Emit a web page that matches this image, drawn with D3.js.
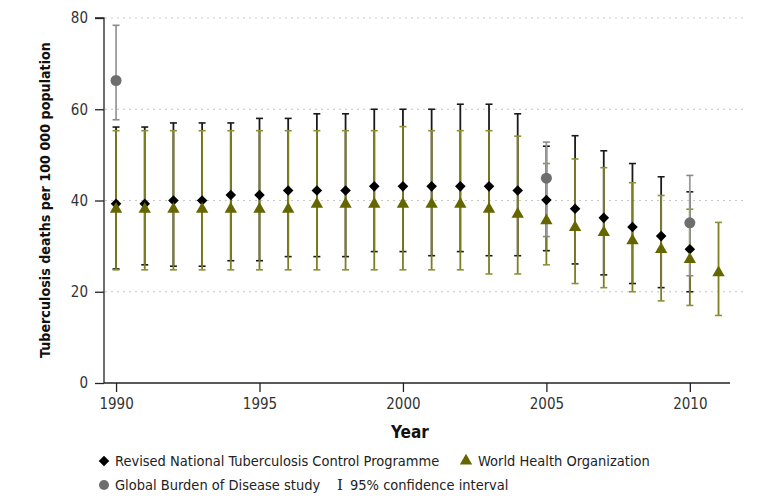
<!DOCTYPE html>
<html>
<head>
<meta charset="utf-8">
<script src="https://cdn.jsdelivr.net/npm/d3@7"></script>
<style>
  body { margin: 0; background: #fff; }
  svg text { font-family: "DejaVu Sans Condensed", "Liberation Sans Narrow", sans-serif; }
</style>
</head>
<body>
<div id="chart"></div>
<script>
// RNTCP estimates, 1990-2010
var rntcpYears = [1990,1991,1992,1993,1994,1995,1996,1997,1998,1999,2000,2001,2002,2003,2004,2005,2006,2007,2008,2009,2010];
var rntcpVal = [39.3,39.3,40.0,40.0,41.2,41.2,42.2,42.2,42.2,43.1,43.1,43.1,43.1,43.1,42.2,40.1,38.2,36.2,34.2,32.2,29.3];
var rntcpLo  = [25.0,25.9,25.6,25.6,26.8,26.8,27.7,27.7,27.7,28.8,28.8,27.9,28.8,27.9,27.9,29.0,26.1,23.7,21.8,20.9,20.0];
var rntcpHi  = [56.1,56.1,57.0,57.0,57.0,58.0,58.0,59.0,59.0,60.0,60.0,60.0,61.1,61.1,59.0,51.9,54.2,50.9,48.1,45.2,41.9];

// WHO estimates, 1990-2011
var whoYears = [1990,1991,1992,1993,1994,1995,1996,1997,1998,1999,2000,2001,2002,2003,2004,2005,2006,2007,2008,2009,2010,2011];
var whoVal = [38.1,38.1,38.1,38.1,38.1,38.1,38.1,39.2,39.2,39.2,39.2,39.2,39.2,38.1,37.0,35.6,34.1,33.0,31.2,29.3,27.1,24.2];
var whoLo  = [24.8,24.8,24.8,24.8,24.8,24.8,24.8,24.8,24.8,24.8,24.8,24.8,24.8,23.9,23.9,25.9,21.8,20.9,20.0,18.0,17.0,14.8];
var whoHi  = [55.3,55.3,55.3,55.3,55.3,55.3,55.3,55.3,55.3,55.3,56.2,55.3,55.3,55.3,54.1,48.1,49.1,47.2,43.9,41.1,38.1,35.2];

// Global Burden of Disease study
var gbdYears = [1990, 2005, 2010];
var gbdVal = [66.3, 44.9, 35.1];
var gbdLo  = [57.7, 32.1, 23.5];
var gbdHi  = [78.4, 52.8, 45.5];

var yTicks = [0, 20, 40, 60, 80];
var xTicks = [1990, 1995, 2000, 2005, 2010];

function rows(years, val, lo, hi) {
    return years.map(function(y, i) {
        return { year: y, v: val[i], lo: lo[i], hi: hi[i] };
    });
}

var W = 771, H = 499;
var svg = d3.select("#chart").append("svg").attr("width", W).attr("height", H);

var x = d3.scaleLinear().domain([1989.58, 2011.4]).range([104, 730]);
var y = d3.scaleLinear().domain([0, 80]).range([383, 18]);

// gridlines
svg.append("g").selectAll("line").data(yTicks.filter(function(d) { return d > 0; }))
    .enter().append("line")
    .attr("x1", 105).attr("x2", 745)
    .attr("y1", function(d) { return y(d); }).attr("y2", function(d) { return y(d); })
    .attr("stroke", "#c8c8c8").attr("stroke-width", 1.2)
    .attr("stroke-dasharray", "2,4");

// axes
var yAxis = svg.append("g").attr("transform", "translate(104,0)")
    .call(d3.axisLeft(y).tickValues(yTicks).tickSize(9).tickPadding(7));
var xAxis = svg.append("g").attr("transform", "translate(0,383)")
    .call(d3.axisBottom(x).tickValues(xTicks).tickFormat(d3.format("d")).tickSize(9).tickPadding(6));
[yAxis, xAxis].forEach(function(a) {
    a.select(".domain").attr("stroke", "#222").attr("stroke-width", 1.3);
    a.selectAll(".tick line").attr("stroke", "#222").attr("stroke-width", 1.3);
    a.selectAll(".tick text").attr("fill", "#333").style("font-size", "15px")
        .style("font-family", "'DejaVu Sans Condensed', sans-serif");
});
yAxis.select(".domain").attr("d", "M-9," + y(80) + "H0V" + y(0));
xAxis.select(".domain").attr("d", "M104,0H730");

// error bars
function errorBars(data, color, capColor) {
    var g = svg.append("g");
    g.selectAll("line.v").data(data).enter().append("line")
        .attr("x1", function(d) { return x(d.year); }).attr("x2", function(d) { return x(d.year); })
        .attr("y1", function(d) { return y(d.lo); }).attr("y2", function(d) { return y(d.hi); })
        .attr("stroke", color).attr("stroke-width", 1.8);
    ["lo", "hi"].forEach(function(k) {
        g.selectAll("line." + k).data(data).enter().append("line")
            .attr("x1", function(d) { return x(d.year) - 3.5; }).attr("x2", function(d) { return x(d.year) + 3.5; })
            .attr("y1", function(d) { return y(d[k]); }).attr("y2", function(d) { return y(d[k]); })
            .attr("stroke", capColor).attr("stroke-width", 1.6);
    });
}

var rntcp = rows(rntcpYears, rntcpVal, rntcpLo, rntcpHi);
var who = rows(whoYears, whoVal, whoLo, whoHi);
var gbd = rows(gbdYears, gbdVal, gbdLo, gbdHi);

errorBars(rntcp, "#1a1a1a", "#1a1a1a");
errorBars(who, "#7d7d22", "#8f8f3a");
errorBars(gbd, "#9a9a9a", "#8a8a8a");

// markers
var diamond = d3.symbol().type(d3.symbolSquare).size(56);
var triangle = d3.symbol().type(d3.symbolTriangle).size(66);

svg.append("g").selectAll("path").data(rntcp).enter().append("path")
    .attr("d", diamond)
    .attr("transform", function(d) { return "translate(" + x(d.year) + "," + y(d.v) + ") rotate(45)"; })
    .attr("fill", "#000");
svg.append("g").selectAll("path").data(who).enter().append("path")
    .attr("d", triangle)
    .attr("transform", function(d) { return "translate(" + x(d.year) + "," + y(d.v) + ")"; })
    .attr("fill", "#666600");
svg.append("g").selectAll("circle").data(gbd).enter().append("circle")
    .attr("cx", function(d) { return x(d.year); }).attr("cy", function(d) { return y(d.v); })
    .attr("r", 5.5).attr("fill", "#6e6e6e");

// axis titles
svg.append("text").attr("x", 410).attr("y", 438).attr("text-anchor", "middle")
    .style("font-size", "17px").style("font-weight", "bold").attr("fill", "#111").text("Year");
svg.append("text").attr("transform", "translate(50,200) rotate(-90)").attr("text-anchor", "middle")
    .style("font-size", "14.2px").style("font-weight", "bold").attr("fill", "#111")
    .text("Tuberculosis deaths per 100 000 population");

// legend
var lg = svg.append("g").style("font-size", "14.5px");
lg.append("path").attr("d", diamond).attr("transform", "translate(104,461) rotate(45)").attr("fill", "#000");
lg.append("text").attr("x", 115).attr("y", 466).attr("fill", "#222").text("Revised National Tuberculosis Control Programme");
lg.append("path").attr("d", triangle).attr("transform", "translate(466,461)").attr("fill", "#666600");
lg.append("text").attr("x", 478).attr("y", 466).attr("fill", "#222").text("World Health Organization");
lg.append("circle").attr("cx", 104).attr("cy", 485).attr("r", 5).attr("fill", "#6e6e6e");
lg.append("text").attr("x", 115).attr("y", 490).attr("fill", "#222").text("Global Burden of Disease study");
lg.append("text").attr("x", 340).attr("y", 490).attr("fill", "#222").attr("text-anchor", "middle")
    .style("font-family", "'DejaVu Serif', 'Liberation Serif', serif").style("font-size", "15px").text("I");
lg.append("text").attr("x", 350).attr("y", 490).attr("fill", "#222").text("95% confidence interval");
</script>
</body>
</html>
